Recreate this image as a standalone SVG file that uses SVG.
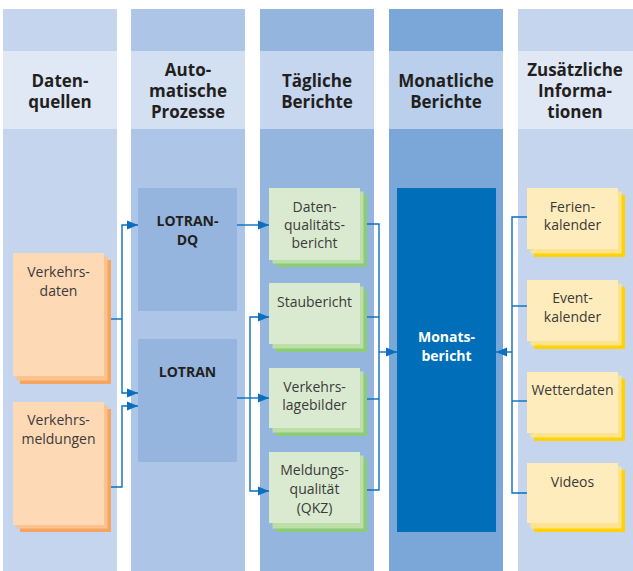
<svg xmlns="http://www.w3.org/2000/svg" width="633" height="571" viewBox="0 0 633 571">
<style>
.hd{font-family:"Open Sans","Noto Sans","Liberation Sans",sans-serif;font-weight:bold;font-size:17px;fill:#231f20;text-anchor:middle}
.nt{font-family:"Open Sans","Noto Sans","Liberation Sans",sans-serif;font-size:14px;fill:#3c3a3a;text-anchor:middle}
.bt{font-family:"Open Sans","Noto Sans","Liberation Sans",sans-serif;font-weight:bold;font-size:14px;fill:#231f20;text-anchor:middle}
.wt{font-family:"Open Sans","Noto Sans","Liberation Sans",sans-serif;font-weight:bold;font-size:14px;fill:#ffffff;text-anchor:middle}
.cn{fill:none;stroke:#0b6fbf;stroke-width:1.4}
.o1{fill:#f7a55e}.o2{fill:#fbc28d}.o3{fill:#fdd9b6}
.g1{fill:#8ccb77}.g2{fill:#bcdfa8}.g3{fill:#d9ead0}
.y1{fill:#ffd200}.y2{fill:#fee38e}.y3{fill:#feecbc}
</style>
<defs>
<marker id="ar" markerUnits="userSpaceOnUse" markerWidth="12" markerHeight="10" refX="11" refY="5" orient="auto">
<path d="M0,0.5 L11,5 L0,9.5 Z" fill="#0b6fbf"/>
</marker>
</defs>
<rect width="633" height="571" fill="#ffffff"/>
<g id="columns">
<rect x="3" y="9" width="114" height="562" fill="#c6d5ee"/>
<rect x="3" y="51" width="114" height="78" fill="#e0e8f5"/>
<rect x="131" y="9" width="114" height="562" fill="#adc6e8"/>
<rect x="131" y="51" width="114" height="78" fill="#d3e0f2"/>
<rect x="260" y="9" width="114" height="562" fill="#94b5de"/>
<rect x="260" y="51" width="114" height="78" fill="#c6d6ee"/>
<rect x="389" y="9" width="114" height="562" fill="#7ba7d8"/>
<rect x="389" y="51" width="114" height="78" fill="#b9cfeb"/>
<rect x="518" y="9" width="115" height="562" fill="#c6d5ee"/>
<rect x="518" y="51" width="115" height="78" fill="#e0e8f5"/>
</g>
<g id="headers">
<text class="hd" x="60" y="87">Daten-</text>
<text class="hd" x="60" y="108">quellen</text>
<text class="hd" x="188" y="76">Auto-</text>
<text class="hd" x="188" y="97">matische</text>
<text class="hd" x="188" y="118">Prozesse</text>
<text class="hd" x="317" y="87">Tägliche</text>
<text class="hd" x="317" y="108">Berichte</text>
<text class="hd" x="446" y="87">Monatliche</text>
<text class="hd" x="446" y="108">Berichte</text>
<text class="hd" x="575" y="76">Zusätzliche</text>
<text class="hd" x="575" y="97">Informa-</text>
<text class="hd" x="575" y="118">tionen</text>
</g>
<g id="verkehrsdaten">
<rect class="o1" x="20" y="260" width="91" height="124"/>
<rect class="o2" x="16.5" y="256.5" width="91" height="124"/>
<rect class="o3" x="13" y="253" width="91" height="123"/>
<text class="nt" x="58.5" y="277">Verkehrs-</text>
<text class="nt" x="58.5" y="296">daten</text>
</g>
<g id="verkehrsmeldungen">
<rect class="o1" x="20" y="409" width="91" height="123"/>
<rect class="o2" x="16.5" y="405.5" width="91" height="123"/>
<rect class="o3" x="13" y="402" width="91" height="123"/>
<text class="nt" x="58.5" y="425">Verkehrs-</text>
<text class="nt" x="58.5" y="444">meldungen</text>
</g>
<g id="lotran-dq">
<rect x="138" y="188" width="99" height="123" fill="#95b5de"/>
<text class="bt" x="187.5" y="226">LOTRAN-</text>
<text class="bt" x="187.5" y="245">DQ</text>
</g>
<g id="lotran">
<rect x="138" y="339" width="99" height="123" fill="#95b5de"/>
<text class="bt" x="187.5" y="377">LOTRAN</text>
</g>
<g id="datenqualitaetsbericht">
<rect class="g1" x="276" y="195" width="91" height="72"/>
<rect class="g2" x="272.5" y="191.5" width="91" height="72"/>
<rect class="g3" x="269" y="188" width="91" height="72"/>
<text class="nt" x="314.5" y="212">Daten-</text>
<text class="nt" x="314.5" y="230">qualitäts-</text>
<text class="nt" x="314.5" y="248">bericht</text>
</g>
<g id="staubericht">
<rect class="g1" x="276" y="290" width="91" height="62"/>
<rect class="g2" x="272.5" y="286.5" width="91" height="62"/>
<rect class="g3" x="269" y="283" width="91" height="61"/>
<text class="nt" x="314.5" y="307">Staubericht</text>
</g>
<g id="verkehrslagebilder">
<rect class="g1" x="276" y="375" width="91" height="61"/>
<rect class="g2" x="272.5" y="371.5" width="91" height="61"/>
<rect class="g3" x="269" y="368" width="91" height="60"/>
<text class="nt" x="314.5" y="392">Verkehrs-</text>
<text class="nt" x="314.5" y="410">lagebilder</text>
</g>
<g id="meldungsqualitaet">
<rect class="g1" x="276" y="459" width="91" height="73"/>
<rect class="g2" x="272.5" y="455.5" width="91" height="73"/>
<rect class="g3" x="269" y="452" width="91" height="71"/>
<text class="nt" x="314.5" y="475">Meldungs-</text>
<text class="nt" x="314.5" y="494">qualität</text>
<text class="nt" x="314.5" y="513">(QKZ)</text>
</g>
<g id="monatsbericht">
<rect x="397" y="188" width="99" height="344" fill="#006eb9"/>
<text class="wt" x="446.5" y="342">Monats-</text>
<text class="wt" x="446.5" y="361">bericht</text>
</g>
<g id="ferienkalender">
<rect class="y1" x="534" y="195" width="91" height="62"/>
<rect class="y2" x="530.5" y="191.5" width="91" height="62"/>
<rect class="y3" x="527" y="188" width="91" height="61"/>
<text class="nt" x="572.5" y="212">Ferien-</text>
<text class="nt" x="572.5" y="230">kalender</text>
</g>
<g id="eventkalender">
<rect class="y1" x="534" y="287" width="91" height="62"/>
<rect class="y2" x="530.5" y="283.5" width="91" height="62"/>
<rect class="y3" x="527" y="280" width="91" height="61"/>
<text class="nt" x="572.5" y="303">Event-</text>
<text class="nt" x="572.5" y="322">kalender</text>
</g>
<g id="wetterdaten">
<rect class="y1" x="534" y="379" width="91" height="62"/>
<rect class="y2" x="530.5" y="375.5" width="91" height="62"/>
<rect class="y3" x="527" y="372" width="91" height="61"/>
<text class="nt" x="572.5" y="395">Wetterdaten</text>
</g>
<g id="videos">
<rect class="y1" x="534" y="470" width="91" height="62"/>
<rect class="y2" x="530.5" y="466.5" width="91" height="62"/>
<rect class="y3" x="527" y="463" width="91" height="60"/>
<text class="nt" x="572.5" y="487">Videos</text>
</g>
<g id="connectors">
<path class="cn" d="M111,319 H122"/>
<path class="cn" d="M122,319 V225 H138" marker-end="url(#ar)"/>
<path class="cn" d="M122,319 V393 H138" marker-end="url(#ar)"/>
<path class="cn" d="M111,487 H122 V406 H138" marker-end="url(#ar)"/>
<path class="cn" d="M237,225 H269" marker-end="url(#ar)"/>
<path class="cn" d="M237,398 H269" marker-end="url(#ar)"/>
<path class="cn" d="M250,398 V317 H269" marker-end="url(#ar)"/>
<path class="cn" d="M250,398 V491 H269" marker-end="url(#ar)"/>
<path class="cn" d="M367,224 H379 V490 H367"/>
<path class="cn" d="M367,317 H379"/>
<path class="cn" d="M367,399 H379"/>
<path class="cn" d="M379,352 H397" marker-end="url(#ar)"/>
<path class="cn" d="M527,217 H512 V493 H527"/>
<path class="cn" d="M512,306 H527"/>
<path class="cn" d="M512,401 H527"/>
<path class="cn" d="M512,352 H496" marker-end="url(#ar)"/>
</g>
</svg>
